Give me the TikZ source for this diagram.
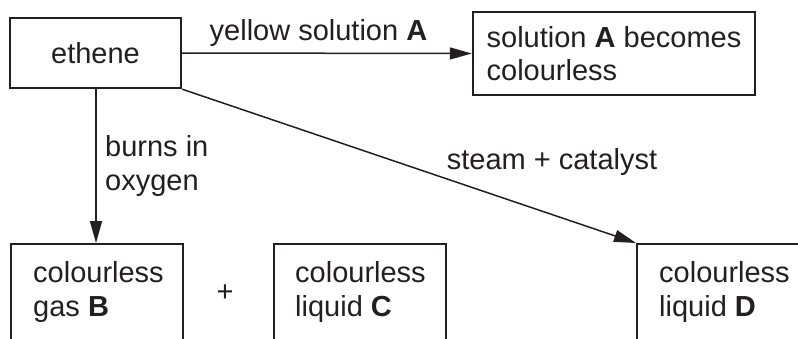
\documentclass[tikz,border=0pt]{standalone}
\usepackage{fontspec}
\setmainfont{Liberation Sans}
\usetikzlibrary{arrows.meta}
\definecolor{ink}{HTML}{231F20}
\begin{document}
\begin{tikzpicture}[x=1pt,y=-1pt,
  every node/.style={font=\fontsize{29}{33.5}\selectfont, text=ink},
  box/.style={draw=ink, line width=2.4pt, inner sep=0pt},
  txt/.style={inner sep=0pt, align=left},
  arr/.style={draw=ink, line width=1.5pt, -{Triangle[length=22pt,width=12pt]}}]
\useasboundingbox (0,0) rectangle (798,338);
% top boxes
\node[box, minimum width=171pt, minimum height=70pt] (eth) at (95.5,53) {ethene};
\node[box, minimum width=282pt, minimum height=83pt, align=left] (A) at (614,53.5) {solution \textbf{A} becomes\\colourless};
% bottom open boxes
\node[box, minimum width=172pt, minimum height=140pt, anchor=north west] (B) at (10,243) {};
\node[box, minimum width=172pt, minimum height=140pt, anchor=north west] (C) at (273,243) {};
\node[box, minimum width=200pt, minimum height=140pt, anchor=north west] (D) at (636,243) {};
\node[txt, anchor=base west] (Bt) at (33,316) {colourless\\gas \textbf{B}};
\node[txt, anchor=base west] (Ct) at (295,316) {colourless\\liquid \textbf{C}};
\node[txt, anchor=base west] (Dt) at (659,316) {colourless\\liquid \textbf{D}};
\node[inner sep=0pt] (plus) at (225,293) {+};
% connectors
\draw[arr] (eth.east) -- (A.west);
\node[inner sep=0pt, anchor=base] (la) at (318.5,40) {yellow solution \textbf{A}};
\draw[arr] (eth.south -| 96,0) -- (B.north -| 96,0);
\node[txt, anchor=base west] (lb) at (105,190) {burns in\\oxygen};
\draw[arr] (eth.south east) -- (D.north west);
\node[inner sep=0pt, anchor=base] (ld) at (552,169) {steam + catalyst};
\end{tikzpicture}
\end{document}
